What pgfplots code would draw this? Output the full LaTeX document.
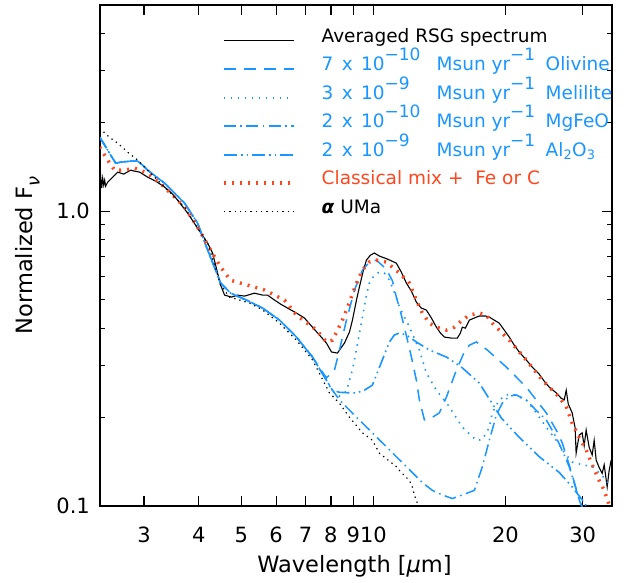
\documentclass[border=0pt]{standalone}
\usepackage{pgfplots}
\pgfplotsset{compat=1.18}
\usepackage{fontspec}
\setmainfont{DejaVu Sans}
\definecolor{myblue}{RGB}{25,150,255}
\definecolor{myred}{RGB}{255,70,30}
\newcommand\sups[1]{\raisebox{0.55em}{\fontsize{17}{17}\selectfont #1}}
\newcommand\gap{\hspace{0.45em}}
\tikzset{
 olivsty/.style={color=myblue, line width=1.5pt, dash pattern=on 12pt off 8pt},
 melisty/.style={color=myblue, line width=1.6pt, dash pattern=on 1.5pt off 5.5pt},
 mgfeosty/.style={color=myblue, line width=1.5pt, dash pattern=on 12pt off 4.5pt on 1.5pt off 4.5pt},
 alsty/.style={color=myblue, line width=1.6pt, dash pattern=on 13pt off 4pt on 1.6pt off 4pt on 1.6pt off 4pt},
 redsty/.style={color=myred, line width=3.5pt, dash pattern=on 2pt off 6pt},
 umasty/.style={color=black, line width=1.2pt, dash pattern=on 1.3pt off 4pt},
}
\begin{document}
\begin{tikzpicture}
\begin{loglogaxis}[
 name=ax,
 scale only axis, width=512pt, height=501pt,
 xmin=2.38, xmax=35, ymin=0.1, ymax=5,
 axis line style={line width=1.5pt},
 xtick={3,4,5,6,7,8,9,10,20,30},
 xticklabels={3,4,5,6,7,8,9,10,20,30},
 xminorticks=false,
 ytick={0.1,1},
 yticklabels={0.1,1.0},
 minor ytick={0.2,0.3,0.4,0.5,0.6,0.7,0.8,0.9,2,3,4},
 tick align=inside,
 major tick length=10pt, minor tick length=5pt,
 tick style={black, line width=1.2pt},
 xticklabel style={font=\fontsize{21}{21}\selectfont, inner sep=0pt, anchor=north, yshift=-21pt},
 yticklabel style={font=\fontsize{21}{21}\selectfont, inner sep=0pt, anchor=east, xshift=-10pt},
 xlabel={Wavelength [\textit{μ}m]},
 ylabel={Normalized F\raisebox{-0.3em}{\fontsize{18}{18}\selectfont\textit{ν}}},
 xlabel style={font=\fontsize{22.5}{22.5}\selectfont, at={(axis description cs:0.497,-0.132)}, anchor=base, inner sep=0pt},
 ylabel style={font=\fontsize{22.5}{22.5}\selectfont, at={(axis description cs:-0.131,0.5)}, anchor=base, inner sep=0pt},
 legend cell align=left,
 legend image code/.code={\draw[#1] (0pt,-3pt) -- (70pt,-3pt);},
 legend style={at={(axis description cs:0.2383,0.954)}, anchor=north west, draw=none, fill=none, inner sep=0pt,
   font=\fontsize{18.5}{18.5}\selectfont, row sep=9.5pt, column sep=26pt,
   nodes={inner sep=0pt, text height=14pt, text depth=5pt}},
]
% Averaged RSG spectrum
\addplot[black, line width=1.1pt] coordinates {
(2.376,1.244)(2.388,1.314)(2.401,1.197)(2.414,1.294)(2.427,1.225)(2.439,1.273)(2.452,1.215)(2.478,1.254)
(2.531,1.294)(2.612,1.356)(2.695,1.335)(2.796,1.377)(2.855,1.366)(2.931,1.356)(3.056,1.304)(3.187,1.264)
(3.341,1.206)(3.467,1.151)(3.577,1.090)(3.770,0.985)(3.973,0.876)(4.188,0.779)(4.299,0.721)(4.413,0.617)
(4.483,0.561)(4.578,0.519)(4.748,0.511)(4.900,0.519)(5.084,0.515)(5.357,0.527)(5.588,0.519)(5.737,0.519)
(5.952,0.499)(6.140,0.484)(6.438,0.465)(6.677,0.451)(6.963,0.434)(7.262,0.404)(7.534,0.380)(7.815,0.357)
(8.023,0.333)(8.279,0.330)(8.590,0.357)(8.818,0.389)(8.958,0.427)(9.149,0.499)(9.292,0.553)(9.489,0.631)
(9.640,0.682)(9.844,0.709)(10.05,0.721)(10.32,0.704)(10.76,0.688)(11.28,0.666)(11.58,0.621)(11.89,0.570)
(12.21,0.535)(12.53,0.491)(12.86,0.469)(13.20,0.462)(13.56,0.434)(13.92,0.404)(14.22,0.386)(14.52,0.374)
(15.06,0.371)(15.54,0.371)(15.79,0.386)(15.95,0.404)(16.21,0.401)(16.55,0.427)(16.99,0.434)(17.44,0.441)
(18.00,0.441)(18.38,0.437)(18.86,0.427)(19.36,0.417)(19.88,0.395)(20.41,0.374)(20.95,0.351)(21.50,0.333)
(22.31,0.313)(23.02,0.296)(23.88,0.280)(24.52,0.265)(25.17,0.253)(26.11,0.242)(26.80,0.232)(27.23,0.229)
(27.52,0.247)(27.81,0.222)(28.39,0.207)(28.84,0.184)(28.99,0.151)(29.46,0.174)(29.92,0.177)(30.24,0.160)
(30.56,0.181)(31.05,0.158)(31.54,0.149)(31.87,0.167)(32.21,0.143)(32.72,0.135)(33.24,0.129)(33.59,0.138)
(34.12,0.116)(34.48,0.132)(34.84,0.143)};
\addlegendentry{Averaged RSG spectrum}
% Olivine
\addplot[olivsty] coordinates {
(2.376,1.781)(2.439,1.674)(2.517,1.548)(2.585,1.454)(2.653,1.466)(2.796,1.477)(2.900,1.477)(2.977,1.432)
(3.056,1.377)(3.341,1.244)(3.711,1.064)(3.973,0.911)(4.188,0.738)(4.367,0.631)(4.483,0.570)(4.724,0.527)
(5.136,0.499)(5.588,0.469)(6.108,0.427)(6.677,0.374)(7.262,0.320)(7.815,0.272)(8.151,0.289)(8.367,0.338)
(8.681,0.427)(9.052,0.540)(9.440,0.631)(9.792,0.672)(10.16,0.682)(10.70,0.636)(11.05,0.580)(11.28,0.511)
(11.58,0.444)(11.89,0.378)(12.21,0.320)(12.53,0.267)(12.73,0.229)(13.07,0.196)(13.56,0.199)(14.14,0.207)
(14.67,0.234)(15.46,0.289)(16.12,0.333)(16.55,0.351)(17.17,0.360)(18.19,0.338)(20.09,0.296)(22.31,0.253)
(24.78,0.207)(26.11,0.181)(26.94,0.164)(27.95,0.138)(28.69,0.121)(29.46,0.105)(30.08,0.0969)};
\addlegendentry{\textcolor{myblue}{\makebox[115pt][l]{7\gap x\gap 10\sups{−10}}\makebox[109pt][l]{Msun yr\sups{−1}}Olivine}}
% Melilite
\addplot[melisty] coordinates {
(2.376,1.781)(2.439,1.674)(2.517,1.548)(2.585,1.454)(2.653,1.466)(2.796,1.477)(2.900,1.477)(2.977,1.432)
(3.056,1.377)(3.341,1.244)(3.711,1.064)(3.973,0.911)(4.188,0.738)(4.367,0.631)(4.483,0.570)(4.724,0.527)
(5.136,0.499)(5.588,0.469)(6.108,0.427)(6.677,0.374)(7.262,0.320)(7.815,0.267)(8.066,0.245)(8.367,0.236)
(8.681,0.245)(8.958,0.290)(9.149,0.340)(9.440,0.437)(9.640,0.519)(9.792,0.570)(10.05,0.607)(10.32,0.621)
(10.59,0.617)(10.88,0.583)(11.28,0.510)(11.46,0.473)(12.08,0.405)(12.73,0.338)(13.20,0.283)(13.92,0.247)
(14.90,0.217)(15.95,0.185)(17.17,0.167)(17.72,0.168)(18.38,0.185)(18.67,0.207)(19.36,0.229)(20.09,0.238)
(20.73,0.240)(21.50,0.234)(22.31,0.229)(23.51,0.207)(24.78,0.185)(26.11,0.167)(27.23,0.152)(28.39,0.141)
(29.92,0.138)(31.54,0.136)(33.24,0.127)(34.84,0.116)};
\addlegendentry{\textcolor{myblue}{\makebox[115pt][l]{3\gap x\gap 10\sups{−9}}\makebox[109pt][l]{Msun yr\sups{−1}}Melilite}}
% MgFeO
\addplot[mgfeosty] coordinates {
(2.376,1.781)(2.439,1.674)(2.517,1.548)(2.585,1.454)(2.653,1.466)(2.796,1.477)(2.900,1.477)(2.977,1.432)
(3.056,1.377)(3.341,1.244)(3.711,1.064)(3.973,0.911)(4.188,0.738)(4.367,0.631)(4.483,0.570)(4.724,0.527)
(5.136,0.499)(5.588,0.469)(6.108,0.427)(6.677,0.374)(7.262,0.320)(7.815,0.267)(8.066,0.247)(8.367,0.229)
(9.149,0.200)(9.948,0.177)(10.88,0.155)(11.89,0.136)(12.93,0.120)(13.63,0.113)(14.36,0.109)(15.14,0.106)
(15.95,0.109)(16.99,0.113)(17.72,0.136)(18.38,0.167)(19.06,0.203)(19.67,0.223)(20.41,0.236)(21.17,0.238)
(22.31,0.229)(23.51,0.211)(24.78,0.196)(26.11,0.171)(27.23,0.149)(27.95,0.136)(29.14,0.111)(30.08,0.0969)};
\addlegendentry{\textcolor{myblue}{\makebox[115pt][l]{2\gap x\gap 10\sups{−10}}\makebox[109pt][l]{Msun yr\sups{−1}}MgFeO}}
% Al2O3
\addplot[alsty] coordinates {
(2.376,1.781)(2.439,1.674)(2.517,1.548)(2.585,1.454)(2.653,1.466)(2.796,1.477)(2.900,1.477)(2.977,1.432)
(3.056,1.377)(3.341,1.244)(3.711,1.064)(3.973,0.911)(4.188,0.738)(4.367,0.631)(4.483,0.570)(4.724,0.527)
(5.136,0.499)(5.588,0.469)(6.108,0.427)(6.677,0.374)(7.262,0.320)(7.815,0.267)(8.066,0.247)(8.367,0.243)
(8.818,0.242)(9.149,0.242)(9.54,0.247)(9.948,0.257)(10.48,0.313)(10.88,0.360)(11.16,0.380)(11.46,0.386)
(11.89,0.380)(12.53,0.360)(13.42,0.338)(14.67,0.320)(15.87,0.296)(17.44,0.261)(19.57,0.199)(21.50,0.171)
(23.88,0.147)(26.52,0.130)(28.39,0.116)(29.92,0.105)(31.05,0.0969)};
\addlegendentry{\textcolor{myblue}{\makebox[115pt][l]{2\gap x\gap 10\sups{−9}}\makebox[109pt][l]{Msun yr\sups{−1}}Al\textsubscript{2}O\textsubscript{3}}}
% Classical mix
\addplot[redsty] coordinates {
(2.376,1.648)(2.478,1.489)(2.570,1.377)(2.709,1.377)(2.855,1.399)(3.056,1.345)(3.341,1.206)(3.711,1.032)
(3.973,0.883)(4.254,0.738)(4.483,0.646)(4.724,0.583)(5.164,0.561)(5.646,0.540)(6.270,0.499)(6.677,0.444)
(7.418,0.395)(7.815,0.360)(8.066,0.365)(8.501,0.427)(8.818,0.491)(9.149,0.570)(9.440,0.631)(9.792,0.672)
(10.16,0.682)(10.70,0.672)(11.46,0.617)(12.08,0.570)(12.53,0.499)(12.93,0.451)(13.42,0.417)(13.92,0.404)
(14.67,0.395)(15.29,0.404)(15.95,0.427)(16.55,0.444)(17.44,0.451)(18.09,0.444)(18.67,0.417)(19.36,0.395)
(20.41,0.365)(22.31,0.313)(24.27,0.267)(26.52,0.234)(27.52,0.217)(28.39,0.191)(29.46,0.171)(30.56,0.155)
(31.54,0.138)(32.72,0.122)(33.59,0.113)(34.48,0.101)};
\addlegendentry{\textcolor{myred}{Classical mix +\ \ Fe or C}}
% alpha UMa
\addplot[umasty] coordinates {
(2.376,1.911)(2.50,1.781)(2.612,1.700)(2.752,1.585)(2.900,1.489)(3.056,1.377)(3.341,1.206)(3.711,1.032)
(3.973,0.876)(4.188,0.779)(4.367,0.641)(4.483,0.561)(4.70,0.511)(5.22,0.488)(5.588,0.462)(6.108,0.417)
(6.677,0.365)(7.262,0.313)(7.940,0.242)(8.367,0.223)(8.818,0.200)(9.440,0.177)(9.948,0.167)(10.32,0.151)
(11.28,0.136)(11.46,0.132)(12.08,0.122)(12.27,0.116)(12.40,0.109)(12.60,0.102)};
\addlegendentry{\textit{\textbf{α}} UMa}
\end{loglogaxis}
\pgfresetboundingbox
\useasboundingbox ([shift={(-100pt,-77pt)}]ax.south west) rectangle ([shift={(20pt,5pt)}]ax.north east);
\end{tikzpicture}
\end{document}
